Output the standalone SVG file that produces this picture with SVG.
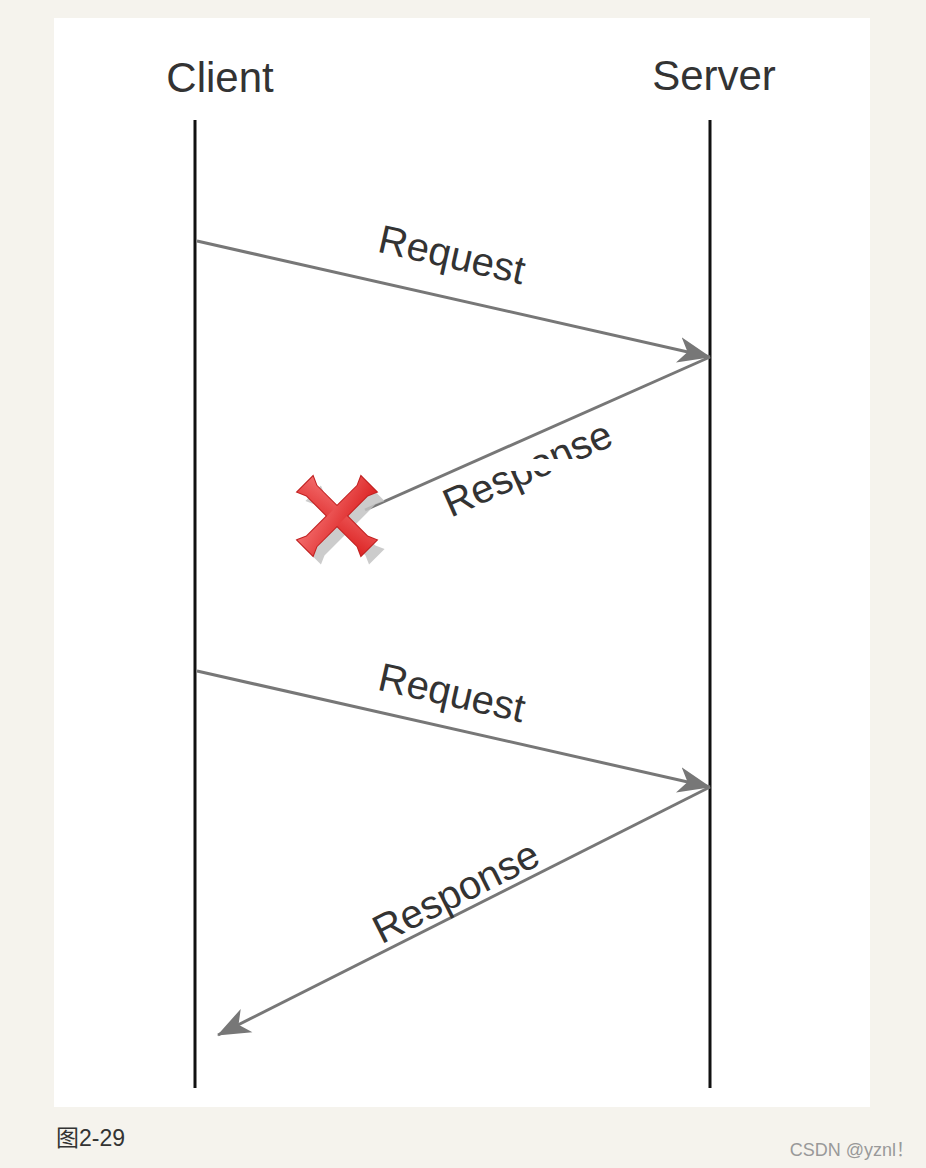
<svg xmlns="http://www.w3.org/2000/svg" width="926" height="1168" viewBox="0 0 926 1168">
<style>
.lbl{font-family:"Liberation Sans",Arial,sans-serif;fill:#333;}
.head{font-size:42px;}
.msg{font-size:40px;}
.life{stroke:#111;stroke-width:3;fill:none;}
.conn{stroke:#777;stroke-width:3;fill:none;}
</style>
<defs>
<marker id="arr" markerUnits="userSpaceOnUse" markerWidth="34" markerHeight="28" refX="32" refY="14" orient="auto">
<path d="M0,1 L33,14 L0,27 L9,14 Z" fill="#777"/>
</marker>
<linearGradient id="red" x1="0" y1="0" x2="1" y2="1">
<stop offset="0" stop-color="#f26a6a"/>
<stop offset="1" stop-color="#dc2424"/>
</linearGradient>
<path id="arm" d="M-45,-11 L-36,-7 L0,-7 L36,-7 L45,-11 L45,11 L36,7 L0,7 L-36,7 L-45,11 Z"/>
</defs>
<rect width="926" height="1168" fill="#f5f3ed"/>
<rect x="54" y="18" width="816" height="1089" fill="#ffffff"/>
<g id="client">
<text class="lbl head" x="220" y="92" text-anchor="middle">Client</text>
<line class="life" x1="195" y1="120" x2="195" y2="1088"/>
</g>
<g id="server">
<text class="lbl head" x="714" y="90" text-anchor="middle">Server</text>
<line class="life" x1="710" y1="120" x2="710" y2="1088"/>
</g>
<g id="connectors">
<line class="conn" x1="197" y1="241" x2="710" y2="357" marker-end="url(#arr)"/>
<text class="lbl msg" transform="translate(449,268) rotate(12.7)" text-anchor="middle">Request</text>
<line class="conn" x1="710" y1="357" x2="365" y2="510"/>
<text class="lbl msg" transform="translate(533,481) rotate(-24)" text-anchor="middle">Response</text>
<rect x="492" y="459" width="122" height="12" fill="#ffffff"/>
<line class="conn" x1="197" y1="671" x2="710" y2="787" marker-end="url(#arr)"/>
<text class="lbl msg" transform="translate(449,706) rotate(12.7)" text-anchor="middle">Request</text>
<line class="conn" x1="710" y1="787" x2="218" y2="1035" marker-end="url(#arr)"/>
<text class="lbl msg" transform="translate(462,904) rotate(-26.7)" text-anchor="middle">Response</text>
</g>
<g id="lost">
<g transform="translate(345,525)" fill="#c4c4c4" opacity="0.85">
<use href="#arm" transform="rotate(45)"/>
<use href="#arm" transform="rotate(-45)"/>
</g>
<g transform="translate(337,516)">
<g stroke="#c02020" stroke-width="2" fill="#c02020">
<use href="#arm" transform="rotate(45)"/>
<use href="#arm" transform="rotate(-45)"/>
</g>
<g fill="url(#red)">
<use href="#arm" transform="rotate(45)"/>
<use href="#arm" transform="rotate(-45)"/>
</g>
</g>
</g>
<text class="lbl" x="56" y="1146" font-size="23" fill="#333" style="font-family:'Liberation Sans','Noto Sans CJK SC',sans-serif">图2-29</text>
<text class="lbl" x="914" y="1156" font-size="18" text-anchor="end" style="fill:#999;font-family:'Liberation Sans','Noto Sans CJK SC',sans-serif">CSDN @yznl！</text>
</svg>
